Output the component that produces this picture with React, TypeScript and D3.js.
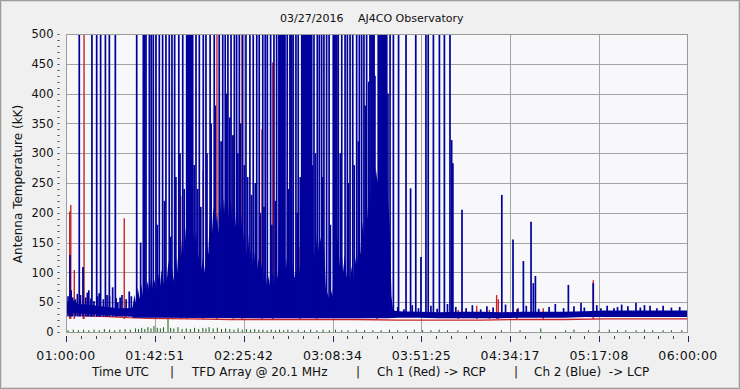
import React from "react";
import * as d3 from "d3";

// time in minutes after 01:00:00 UTC, values in kK
const xTickLabels = ["01:00:00", "01:42:51", "02:25:42", "03:08:34", "03:51:25", "04:34:17", "05:17:08", "06:00:00"];
const yTicks = [0, 50, 100, 150, 200, 250, 300, 350, 400, 450, 500];
const titleDate = "03/27/2016";
const titleSite = "AJ4CO Observatory";
const yTitle = "Antenna Temperature (kK)";
const captionParts = ["Time UTC", "|", "TFD Array @ 20.1 MHz", "|", "Ch 1 (Red) -> RCP", "|", "Ch 2 (Blue)  -> LCP"];

const redBaseline: [number, number][] = [
  [0, 31], [5, 29], [10, 27], [20, 26], [30, 24], [40, 23], [60, 22], [80, 21], [100, 21], [120, 21],
  [140, 21], [160, 20], [180, 20], [200, 20], [220, 21], [240, 21], [260, 22], [280, 22], [300, 22],
];

const redSpikes: [number, number][] = [
  [1.8, 202], [2.3, 213], [4.0, 104], [8.3, 107], [8.7, 500], [28.1, 191], [55.3, 228], [58.2, 126],
  [66.2, 271], [72.8, 500], [80.7, 330], [84.9, 500], [94.5, 340], [99.7, 452], [112.9, 143], [120.9, 143],
  [149.9, 45], [189.2, 37], [198.1, 44], [204.2, 37], [207.7, 62], [208.5, 55], [217.4, 38], [230.2, 40],
  [254.3, 87],
];

// blue quiet band: [t, low, high]
const blueBand: [number, number, number][] = [
  [0, 32, 50], [3, 32, 54], [6, 31, 47], [10, 30, 46], [15, 29, 44], [20, 28, 42], [25, 27, 40],
  [30, 26, 40], [35, 26, 42], [60, 24, 40], [100, 23, 40], [155, 23, 38], [160, 24, 35], [170, 24, 34],
  [180, 23, 33], [190, 23, 34], [200, 23, 34], [210, 23, 33], [220, 24, 34], [230, 24, 34], [240, 24, 34],
  [250, 25, 35], [260, 25, 36], [270, 25, 36], [280, 25, 36], [290, 25, 36], [300, 25, 36],
];

// dense burst envelope (top of the solid blue mass)
const blueBurst: [number, number][] = [
  [32.0, 40], [33.0, 62], [33.8, 48], [34.6, 75], [35.5, 55], [36.3, 80], [37.0, 62], [37.8, 92], [38.6, 70],
  [39.4, 85], [40.3, 65], [41.1, 95], [42.0, 72], [42.8, 88], [43.6, 70], [44.5, 98], [45.3, 75], [46.1, 105],
  [47.0, 80], [47.8, 112], [48.6, 85], [49.4, 120], [50.3, 90], [51.1, 108], [52.0, 85], [52.8, 140], [53.6, 100],
  [54.4, 150], [55.3, 118], [56.1, 165], [57.0, 130], [57.8, 175], [58.6, 140], [59.4, 182], [60.3, 150],
  [61.1, 178], [62.0, 145], [62.8, 170], [63.6, 120], [64.5, 140], [65.3, 105], [66.1, 125], [67.0, 100],
  [67.8, 160], [68.6, 130], [69.4, 195], [70.3, 160], [71.1, 210], [72.0, 170], [72.8, 200], [73.6, 165],
  [74.5, 215], [75.3, 175], [76.1, 225], [77.0, 185], [77.8, 230], [78.6, 190], [79.4, 222], [80.3, 180],
  [81.1, 215], [82.0, 175], [82.8, 205], [83.6, 165], [84.5, 195], [85.3, 150], [86.1, 180], [87.0, 130],
  [87.8, 165], [88.6, 120], [89.4, 150], [90.3, 105], [91.1, 135], [92.0, 100], [92.8, 125], [93.6, 95],
  [94.5, 118], [95.3, 85], [96.1, 105], [97.0, 75], [97.8, 95], [98.6, 70], [99.4, 100], [100.3, 80],
  [101.1, 112], [102.0, 90], [102.8, 120], [103.6, 95], [104.5, 115], [105.3, 88], [106.1, 125], [107.0, 92],
  [107.8, 110], [108.6, 85], [109.4, 118], [110.3, 90], [111.1, 105], [112.0, 80], [112.8, 112], [113.6, 85],
  [114.5, 100], [115.3, 78], [116.1, 108], [117.0, 90], [117.8, 125], [118.6, 100], [119.4, 140], [120.3, 120],
  [121.1, 170], [122.0, 135], [122.8, 160], [123.6, 120], [124.5, 145], [125.3, 75], [126.1, 65], [127.0, 55],
  [127.8, 70], [128.6, 60], [129.4, 150], [130.3, 125], [131.1, 160], [132.0, 110], [132.8, 145], [133.6, 100],
  [134.5, 130], [135.3, 90], [136.1, 115], [137.0, 85], [137.8, 110], [138.6, 90], [139.4, 125], [140.3, 105],
  [141.1, 150], [142.0, 130], [142.8, 185], [143.6, 160], [144.5, 210], [145.3, 190], [146.1, 240], [147.0, 215],
  [147.8, 260], [148.6, 235], [149.4, 275], [150.3, 250], [151.1, 290], [152.0, 260], [152.8, 285], [153.6, 250],
  [154.5, 270], [155.3, 220], [156.1, 180], [157.0, 60], [157.8, 35],
];

const blueSpikes: [number, number][] = [
  // tall bursts (clipped at top)
  [6.4, 500], [12.5, 500], [14.8, 500], [16.7, 500], [19.0, 500], [20.9, 500], [23.8, 500], [34.1, 500],
  [37.3, 500], [38.0, 500], [38.6, 500], [40.2, 500], [41.1, 500], [42.1, 500], [43.4, 500], [45.0, 500],
  [46.6, 500], [48.2, 500], [49.8, 500], [51.1, 500], [52.4, 500], [54.4, 500], [56.3, 500], [58.2, 500],
  [58.7, 500], [59.2, 500], [59.7, 500], [60.1, 500], [60.6, 500], [61.1, 500], [62.7, 500], [64.3, 500],
  [66.2, 500], [67.5, 500], [69.5, 500], [71.5, 500], [73.9, 500], [75.6, 500], [76.8, 500], [78.1, 500],
  [79.6, 500], [81.2, 500], [82.3, 500], [83.6, 500], [85.2, 500], [86.8, 500], [88.7, 500], [90.3, 500],
  [92.0, 500], [93.2, 500], [94.9, 500], [96.1, 500], [97.1, 500], [98.7, 500], [100.3, 500], [101.6, 500],
  [102.7, 500], [103.1, 500], [103.5, 500], [103.9, 500], [104.2, 500], [104.6, 500], [104.9, 500], [105.3, 500],
  [105.6, 500], [106.7, 500], [108.0, 500], [108.5, 500], [108.9, 500], [109.6, 500], [110.9, 500], [112.0, 500],
  [113.7, 500], [114.2, 500], [114.6, 500], [115.1, 500], [115.5, 500], [116.0, 500], [116.5, 500], [117.0, 500],
  [117.4, 500], [118.0, 500], [118.5, 500], [119.6, 500], [121.2, 500], [122.2, 500], [123.3, 500], [124.4, 500],
  [125.7, 500], [126.9, 500], [128.9, 500], [129.3, 500], [129.7, 500], [130.2, 500], [130.6, 500], [131.3, 500],
  [133.0, 500], [134.6, 500], [135.7, 500], [137.0, 500], [138.3, 500], [140.2, 500], [141.5, 500], [142.6, 500],
  [143.7, 500], [145.0, 500], [146.6, 500], [147.1, 500], [147.6, 500], [148.1, 500], [148.6, 500], [150.6, 500],
  [151.0, 500], [151.4, 500], [151.9, 500], [152.3, 500], [152.7, 500], [153.0, 500], [153.5, 500], [153.9, 500],
  [154.3, 500], [154.7, 500], [156.3, 500], [157.9, 500], [160.4, 500], [164.0, 500], [168.7, 500], [173.6, 500],
  [174.7, 500], [177.2, 500], [180.1, 500], [182.5, 500], [185.2, 500],
  // mid-height bursts inside the active period
  [36.0, 150], [44.0, 180], [47.5, 220], [50.5, 160], [53.0, 260], [55.0, 300], [57.0, 240], [59.9, 330],
  [61.8, 280], [63.5, 240], [65.0, 210], [68.0, 300], [70.0, 350], [72.0, 380], [74.8, 320], [77.5, 400],
  [79.0, 360], [80.5, 330], [82.9, 300], [84.2, 350], [86.0, 280], [87.6, 260], [89.5, 230], [91.3, 250],
  [93.8, 200], [95.5, 210], [99.3, 180], [101.0, 220], [107.4, 240], [111.5, 200], [113.0, 260], [116.8, 230],
  [118.9, 280], [120.3, 300], [123.8, 260], [127.5, 180], [132.3, 300], [136.3, 250], [139.0, 280], [141.0, 320],
  [144.3, 380], [146.0, 420], [149.0, 430], [155.3, 400],
  // isolated events
  [1.9, 129], [8.2, 109], [166.2, 241], [171.2, 126], [186.0, 322], [186.6, 283], [191.0, 205], [210.2, 230],
  [215.6, 155], [220.6, 119], [224.3, 185], [225.4, 82], [226.4, 94], [242.3, 79], [248.4, 49], [254.3, 82],
  [264.3, 40], [274.9, 49], [281.7, 44],
  // small noise
  [1.0, 60], [2.5, 70], [3.2, 58], [4.5, 55], [5.5, 64], [7.0, 62], [9.5, 58], [10.3, 66], [11.0, 70],
  [12.0, 56], [13.5, 52], [15.2, 60], [16.0, 65], [18.0, 55], [19.8, 62], [21.0, 60], [22.5, 75], [24.2, 57],
  [25.0, 50], [26.1, 58], [27.0, 62], [29.0, 55], [30.5, 68], [31.5, 60], [160, 42], [163, 38], [167, 45],
  [170, 40], [176, 44], [179, 39], [184, 47], [188, 42], [193, 40], [196, 45], [200, 38], [203, 43], [206, 41],
  [212, 46], [218, 40], [222, 44], [228, 39], [233, 42], [236, 47], [240, 40], [245, 43], [250, 41], [256, 45],
  [258, 40], [261, 44], [266, 42], [268, 46], [271, 43], [277, 41], [279, 45], [285, 40], [288, 44], [292, 41],
  [296, 42],
];

const greenTicks: [number, number][] = [
  [1, 3], [3.5, 4], [6, 3], [8.5, 4], [11, 3], [13.5, 4], [16, 3], [18.5, 5], [21, 4], [23.5, 3], [26, 4],
  [28.5, 5], [31, 4], [33.5, 6], [35, 5], [36.5, 7], [38, 5], [39.5, 8], [41, 6], [42.4, 10], [44, 7],
  [45.5, 6], [47, 8], [49.2, 22], [50.5, 7], [52, 6], [54, 8], [56, 5], [58, 6], [60, 5], [62, 7], [64, 5],
  [66, 7], [67.5, 6], [69, 8], [71, 6], [73, 7], [75, 5], [77, 6], [79, 5], [81, 4], [83, 6], [85, 4], [87, 5],
  [89, 4], [91, 5], [93, 4], [95, 4], [97, 3], [99, 4], [101, 3], [103, 4], [105, 3], [107, 4], [109, 3],
  [112, 4], [115, 3], [118, 4], [121, 3], [124, 4], [127, 3], [130, 4], [133, 3], [136, 3], [140, 4], [144, 3],
  [148, 3], [152, 3], [156, 4], [160, 3], [164, 3], [168, 4], [172, 3], [176, 3], [180, 4], [184, 3], [189, 3],
  [197, 3], [210, 3], [219, 3], [229, 6], [241, 3], [245, 4], [252, 3], [257, 3], [262, 4], [266, 3], [270, 3],
  [275, 3], [279, 4], [283, 3], [288, 3], [292, 3], [297, 3],
];

const FONT = "'DejaVu Sans', Verdana, sans-serif";
const BLUE = "#00009a";
const RED = "#c8242a";
const GREEN = "#126012";

export default function App() {
  const W = 740, H = 389;
  const x = d3.scaleLinear().domain([0, 300]).range([66, 688]);
  const y = d3.scaleLinear().domain([0, 500]).range([332, 34]);
  const majorTimes = xTickLabels.map((_, i) => (i * 300) / 7);
  const minorTimes = d3.range(0, 43).map((i) => (i * 300) / 42);
  const minorY = d3.range(0, 51).map((i) => i * 10);

  const redLine = d3.line<[number, number]>().x((d) => x(d[0])).y((d) => y(d[1]))(redBaseline) || "";
  const bandArea = d3.area<[number, number, number]>().x((d) => x(d[0])).y0((d) => y(d[1])).y1((d) => y(d[2]))(blueBand) || "";
  const burstArea = d3.area<[number, number]>().x((d) => x(d[0])).y0(y(24)).y1((d) => y(d[1]))(blueBurst) || "";

  const [px0, px1] = x.range();
  const [py0, py1] = [y(500), y(0)];

  return (
    <svg width={W} height={H} style={{ position: "absolute", left: 0, top: 0 }} fontFamily={FONT}>
      <defs>
        <clipPath id="plotclip">
          <rect x={px0} y={py0} width={px1 - px0} height={py1 - py0} />
        </clipPath>
      </defs>
      <rect x={0} y={0} width={W} height={H} fill="#f0f0f0" />
      <rect x={0.5} y={0.5} width={W - 1} height={H - 1} fill="none" stroke="#9c9c9c" />
      <rect x={1.5} y={1.5} width={W - 3} height={H - 3} fill="none" stroke="#d8d8d8" />

      <text x={280} y={22} fontSize={11} fill="#111">{titleDate}</text>
      <text x={358} y={22} fontSize={11} fill="#111">{titleSite}</text>

      <rect x={px0} y={py0} width={px1 - px0} height={py1 - py0} fill="#f8f8fa" />
      {yTicks.slice(1, -1).map((v) => (
        <line key={"gy" + v} x1={px0} x2={px1} y1={Math.round(y(v)) + 0.5} y2={Math.round(y(v)) + 0.5} stroke="#a4a4a4" />
      ))}
      {majorTimes.slice(1, -1).map((t, i) => (
        <line key={"gx" + i} x1={Math.round(x(t)) + 0.5} x2={Math.round(x(t)) + 0.5} y1={py0} y2={py1} stroke="#a4a4a4" />
      ))}

      <g clipPath="url(#plotclip)">
        <path d={redLine} fill="none" stroke={RED} strokeWidth={1.3} />
        {redSpikes.map(([t, v], i) => (
          <line key={"rs" + i} x1={x(t)} x2={x(t)} y1={y(22)} y2={y(v)} stroke={RED} strokeWidth={1.4} />
        ))}
        <path d={bandArea} fill={BLUE} />
        <path d={burstArea} fill={BLUE} />
        {blueSpikes.map(([t, v], i) => (
          <line key={"bs" + i} x1={x(t)} x2={x(t)} y1={y(26)} y2={y(v)} stroke={BLUE} strokeWidth={1.7} />
        ))}
        {greenTicks.map(([t, v], i) => (
          <line key={"g" + i} x1={x(t)} x2={x(t)} y1={y(0)} y2={y(v)} stroke={GREEN} strokeWidth={1} />
        ))}
      </g>

      <rect x={px0 + 0.5} y={py0 + 0.5} width={px1 - px0 - 1} height={py1 - py0} fill="none" stroke="#9a9a9a" />

      {minorY.map((v) => (
        <line key={"my" + v} x1={57.5} x2={59.5} y1={Math.round(y(v)) + 0.5} y2={Math.round(y(v)) + 0.5} stroke="#444" />
      ))}
      {yTicks.map((v) => (
        <text key={"yl" + v} x={53.5} y={y(v)} dy="0.36em" fontSize={11.5} textAnchor="end" fill="#111">{v}</text>
      ))}

      {minorTimes.map((t, i) => (
        <line key={"mx" + i} x1={Math.round(x(t)) + 0.5} x2={Math.round(x(t)) + 0.5} y1={336} y2={339} stroke="#444" />
      ))}
      {majorTimes.map((t, i) => (
        <line key={"Mx" + i} x1={Math.round(x(t)) + 0.5} x2={Math.round(x(t)) + 0.5} y1={336} y2={342} stroke="#1c2a6a" />
      ))}
      {majorTimes.map((t, i) => (
        <text key={"xl" + i} x={x(t)} y={360} fontSize={12.5} textAnchor="middle" fill="#111" letterSpacing={0.4}>{xTickLabels[i]}</text>
      ))}

      <text transform={`translate(22,${184}) rotate(-90)`} fontSize={12} textAnchor="middle" fill="#111">{yTitle}</text>

      {[
        { s: captionParts[0], x: 92, a: "start" },
        { s: captionParts[1], x: 172, a: "middle" },
        { s: captionParts[2], x: 192, a: "start" },
        { s: captionParts[3], x: 358, a: "middle" },
        { s: captionParts[4], x: 377, a: "start" },
        { s: captionParts[5], x: 516, a: "middle" },
        { s: captionParts[6], x: 534, a: "start" },
      ].map((c, i) => (
        <text key={"c" + i} x={c.x} y={376} fontSize={12} textAnchor={c.a as any} fill="#111" style={{ whiteSpace: "pre" }}>{c.s}</text>
      ))}
    </svg>
  );
}
